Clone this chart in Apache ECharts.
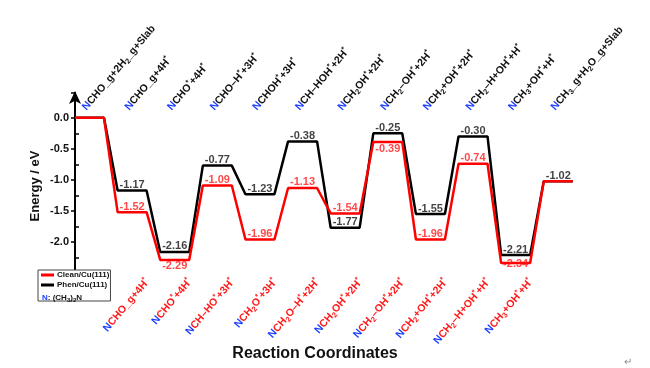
<!DOCTYPE html>
<html>
<head>
<meta charset="utf-8">
<script src="https://cdn.jsdelivr.net/npm/echarts@6/dist/echarts.min.js"></script>
<style>html,body{margin:0;padding:0;background:#fff}#c{width:650px;height:368px}</style>
</head>
<body>
<div id="c"></div>
<script>
// ---- data ----
const cleanE = [0, -1.52, -2.29, -1.09, -1.96, -1.13, -1.54, -0.39, -1.96, -0.74, -2.34, -1.02];
const phenE  = [0, -1.17, -2.16, -0.77, -1.23, -0.38, -1.77, -0.25, -1.55, -0.30, -2.21, -1.02];
// markup: leading N is blue, ~x~ = subscript, ^ = superscript *
const topLabels = [
  "CHO_g+2H~2~_g+Slab", "CHO_g+4H^", "CHO^+4H^", "CHO\u2013H^+3H^", "CHOH^+3H^",
  "CH\u2013HOH^+2H^", "CH~2~OH^+2H^", "CH~2~\u2013OH^+2H^", "CH~2~+OH^+2H^",
  "CH~2~\u2013H+OH^+H^", "CH~3~+OH^+H^", "CH~3~_g+H~2~O_g+Slab"
];
const bottomLabels = [
  "CHO_g+4H^", "CHO^+4H^", "CH\u2013HO^+3H^", "CH~2~O^+3H^", "CH~2~O\u2013H^+2H^",
  "CH~2~OH^+2H^", "CH~2~\u2013OH^+2H^", "CH~2~+OH^+2H^", "CH~2~\u2013H+OH^+H^", "CH~3~+OH^+H^"
];
const bottomStates = [1, 2, 3, 4, 5, 6, 7, 8, 9, 10];
const yTickLabels = ["0.0", "-0.5", "-1.0", "-1.5", "-2.0"];
const seriesNames = ["Clean/Cu(111)", "Phen/Cu(111)"];
const axisNames = { x: "Reaction Coordinates", y: "Energy / eV" };

// ---- layout constants ----
const LEVEL = 0.68;          // width of each level in state units
const TOP_OFF = 0.22;
const BOT_OFF = 0.70;
const FONT = 'Arial, "Liberation Sans", sans-serif';

function toRich(s, base) {
  let out = '{' + 'n|N}';
  let sub = false, buf = '';
  const flush = () => { if (buf) { out += '{' + (sub ? base + 's' : base) + '|' + buf + '}'; buf = ''; } };
  for (const ch of s) {
    if (ch === '~') { flush(); sub = !sub; }
    else if (ch === '^') { flush(); out += '{' + base + 'p|*}'; }
    else buf += ch;
  }
  flush();
  return out;
}

function levelPath(vals) {
  const pts = [];
  vals.forEach((v, i) => { pts.push([i, v]); pts.push([i + LEVEL, v]); });
  return pts;
}

const FS = 10.5, FSS = 7.5, LH = 14;
const richStyles = {
  n:  { color: '#1a3cff', fontWeight: 'bold', fontSize: FS, lineHeight: LH, fontFamily: FONT },
  k:  { color: '#111', fontWeight: 'bold', fontSize: FS, lineHeight: LH, fontFamily: FONT },
  ks: { color: '#111', fontWeight: 'bold', fontSize: FSS, lineHeight: LH, verticalAlign: 'bottom', fontFamily: FONT },
  kp: { color: '#111', fontWeight: 'bold', fontSize: FSS, lineHeight: LH, verticalAlign: 'top', fontFamily: FONT },
  r:  { color: '#ff1a1a', fontWeight: 'bold', fontSize: FS, lineHeight: LH, fontFamily: FONT },
  rs: { color: '#ff1a1a', fontWeight: 'bold', fontSize: FSS, lineHeight: LH, verticalAlign: 'bottom', fontFamily: FONT },
  rp: { color: '#ff1a1a', fontWeight: 'bold', fontSize: FSS, lineHeight: LH, verticalAlign: 'top', fontFamily: FONT }
};

const redPos = { 2: ['bottom', 1], 7: ['bottom', 1], 10: ['inside', 0] };

function labelData(vals, skip, special) {
  return vals.map((v, i) => {
    const sp = special[i];
    return {
      value: [i + LEVEL / 2, v],
      label: {
        show: !skip.includes(i),
        position: sp ? sp[0] : 'top',
        distance: sp ? sp[1] : 0,
        offset: sp && sp[0] === 'inside' ? [0, 1] : [0, 0]
      }
    };
  });
}

const chart = echarts.init(document.getElementById('c'), null, { renderer: 'canvas' });
chart.setOption({
  animation: false,
  backgroundColor: '#fff',
  textStyle: { fontFamily: FONT },
  grid: { left: 75, right: 21, top: 93, bottom: 95, containLabel: false },
  legend: {
    data: seriesNames,
    orient: 'vertical',
    left: 38, top: 270,
    itemWidth: 13, itemHeight: 3, itemGap: 2,
    icon: 'rect',
    borderColor: '#444', borderWidth: 1,
    backgroundColor: '#fff',
    padding: [1, 1, 12, 3],
    textStyle: { fontSize: 8, fontWeight: 'bold', color: '#111', fontFamily: FONT, padding: [0, 0, 0, -2] },
    z: 10
  },
  graphic: [
    { type: 'text', left: 42, top: 294, z: 20,
      style: { text: '{b|N}{t|: (CH}{s|3}{t|)}{s|2}{t|N}', rich: {
        b: { fill: '#1a3cff', fontSize: 8, fontWeight: 'bold', fontFamily: FONT, lineHeight: 10 },
        t: { fill: '#111', fontSize: 8, fontWeight: 'bold', fontFamily: FONT, lineHeight: 10 },
        s: { fill: '#111', fontSize: 6, fontWeight: 'bold', fontFamily: FONT, lineHeight: 10, verticalAlign: 'bottom' } } } },
    { type: 'text', left: 624, top: 357, style: { text: '\u21b5', fill: '#888', fontSize: 10 } }
  ],
  xAxis: [
    {
      type: 'value', position: 'bottom', min: 0, max: 13,
      axisLine: { show: false }, axisTick: { show: false }, splitLine: { show: false },
      name: axisNames.x, nameLocation: 'middle', nameGap: 73, nameMoveOverlap: false,
      nameTextStyle: { fontSize: 16, fontWeight: 'bold', color: '#111', fontFamily: FONT, padding: [0, 74, 0, 0] },
      axisLabel: {
        customValues: bottomStates.map(i => i + BOT_OFF),
        rotate: 50, margin: 7,
        formatter: (v) => {
          const idx = bottomStates.indexOf(Math.round(v - BOT_OFF));
          return idx >= 0 ? toRich(bottomLabels[idx], 'r') : '';
        },
        rich: richStyles
      }
    },
    {
      type: 'value', position: 'top', min: 0, max: 13,
      axisLine: { show: false }, axisTick: { show: false }, splitLine: { show: false },
      axisLabel: {
        customValues: topLabels.map((_, i) => i + TOP_OFF),
        rotate: 50, margin: -16,
        formatter: (v) => {
          const i = Math.round(v - TOP_OFF);
          return topLabels[i] ? toRich(topLabels[i], 'k') : '';
        },
        rich: richStyles
      }
    }
  ],
  yAxis: [
    {
      type: 'value', min: -2.5, max: 0.4, interval: 0.5, position: 'left',
      name: axisNames.y, nameLocation: 'middle', nameGap: 33, nameMoveOverlap: false,
      nameTextStyle: { fontSize: 13, fontWeight: 'bold', color: '#111', fontFamily: FONT, padding: [0, 6, 0, 0] },
      splitLine: { show: false },
      axisLine: { show: true, lineStyle: { color: '#000', width: 2 }, symbol: ['none', 'arrow'], symbolSize: [9, 13], symbolOffset: [0, 2] },
      axisTick: { show: true, inside: false, length: 4, lineStyle: { color: '#000', width: 1.5 } },
      axisLabel: {
        margin: 6, fontSize: 11, fontWeight: 'bold', color: '#111', fontFamily: FONT,
        formatter: (v) => {
          const s = v.toFixed(1);
          const t = (s === '-0.0') ? '0.0' : s;
          return yTickLabels.includes(t) ? t : '';
        }
      }
    },
    {
      type: 'value', min: -2.5, max: 0.4, position: 'left', offset: 0,
      splitLine: { show: false }, axisLine: { show: false }, axisLabel: { show: false },
      axisTick: { show: true, inside: true, length: 4, lineStyle: { color: '#000', width: 1.5 },
        customValues: [-2.25, -1.75, -1.25, -0.75, -0.25] }
    }
  ],
  series: [
    {
      name: seriesNames[1], type: 'line', data: levelPath(phenE), symbol: 'none',
      lineStyle: { color: '#000', width: 2.5 }, itemStyle: { color: '#000' }, z: 3
    },
    {
      name: seriesNames[0], type: 'line', data: levelPath(cleanE), symbol: 'none',
      lineStyle: { color: '#ff0000', width: 2.5 }, itemStyle: { color: '#ff0000' }, z: 4
    },
    {
      name: 'phenLabels', type: 'scatter', symbolSize: 0, z: 6,
      data: labelData(phenE, [0], {}),
      label: { color: '#111', fontSize: 11, fontWeight: 'bold', fontFamily: FONT,
        formatter: p => p.value[1].toFixed(2) }
    },
    {
      name: 'cleanLabels', type: 'scatter', symbolSize: 0, z: 6,
      data: labelData(cleanE, [0, 11], redPos),
      label: { color: '#ff1a1a', fontSize: 11, fontWeight: 'bold', fontFamily: FONT,
        formatter: p => p.value[1].toFixed(2) }
    }
  ]
});
</script>
</body>
</html>
